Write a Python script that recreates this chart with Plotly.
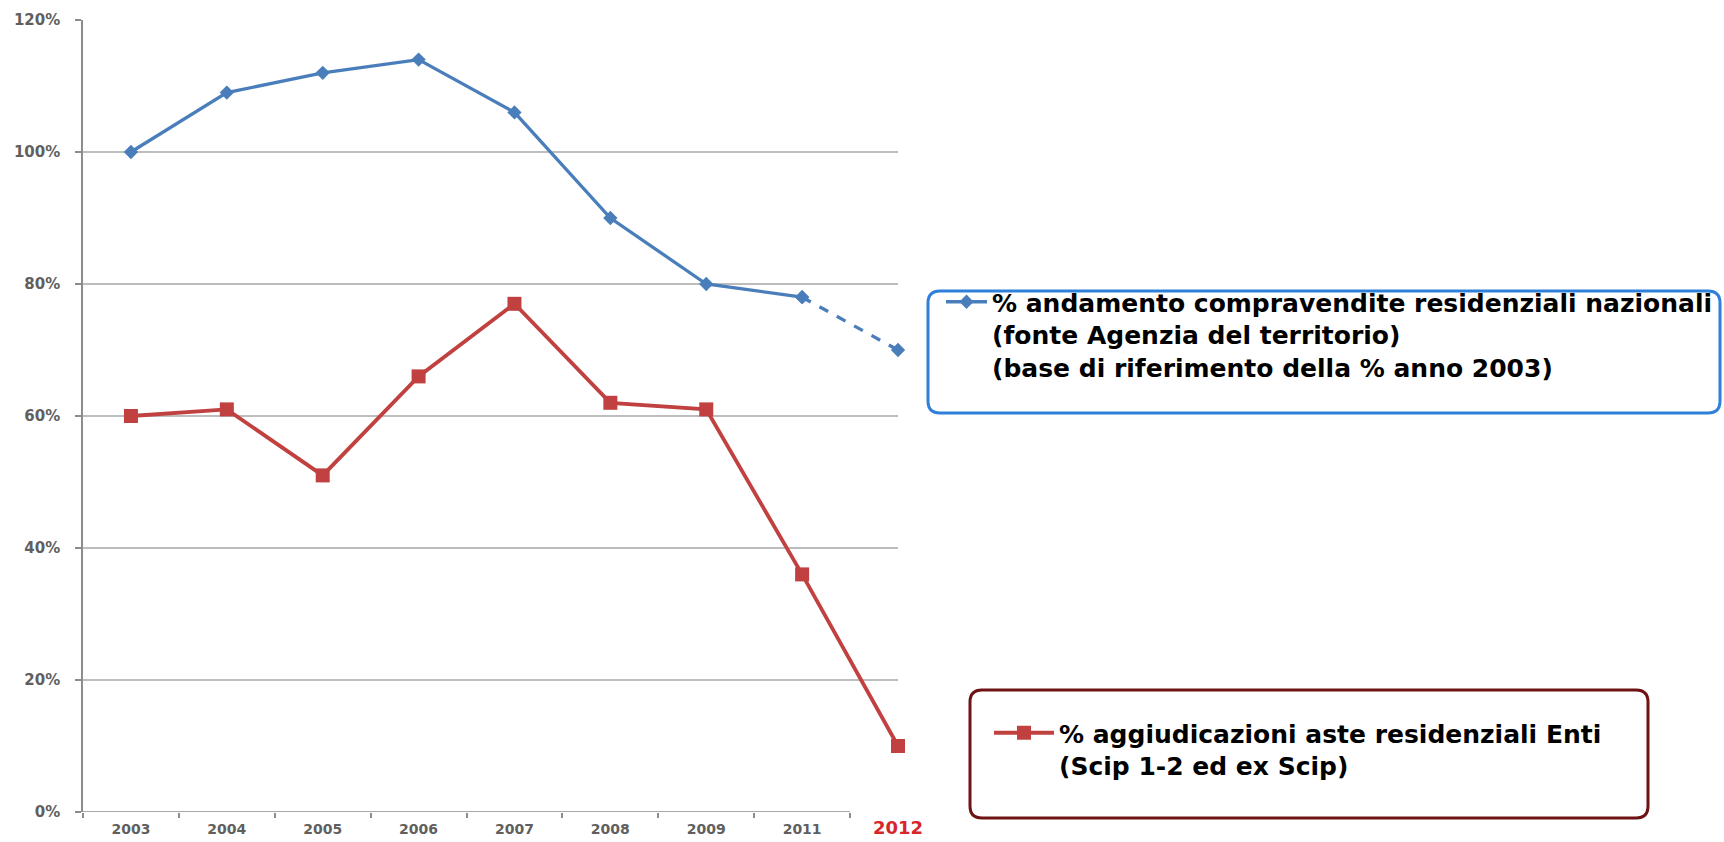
import plotly.graph_objects as go

years = ["2003", "2004", "2005", "2006", "2007", "2008", "2009", "2011", "2012"]
compravendite = [100, 109, 112, 114, 106, 90, 80, 78, 70]
aggiudicazioni = [60, 61, 51, 66, 77, 62, 61, 36, 10]
y_ticks = [0, 20, 40, 60, 80, 100, 120]
y_tick_labels = [f"{v}%" for v in y_ticks]

name_blue = ("% andamento compravendite residenziali nazionali<br>"
             "(fonte Agenzia del territorio)<br>"
             "(base di riferimento della % anno 2003)")
name_red = "% aggiudicazioni aste residenziali Enti<br>(Scip 1-2 ed ex Scip)"

BLUE = "#4a7ebb"
RED = "#c0413f"

W, H = 1724, 842
L, R, T, B = 83, W - 898, 20, 30
pw, ph = W - L - R, H - T - B

xpos = list(range(len(years)))
n_solid = len(years) - 1  # last point (2012) is an estimate -> dashed

fig = go.Figure()
fig.add_trace(go.Scatter(
    x=xpos[:n_solid], y=compravendite[:n_solid], mode="lines+markers",
    name=name_blue, legend="legend",
    line=dict(color=BLUE, width=3.3),
    marker=dict(symbol="diamond", size=11, color=BLUE),
    cliponaxis=False,
))
fig.add_trace(go.Scatter(
    x=xpos[n_solid - 1:], y=compravendite[n_solid - 1:], mode="lines+markers",
    showlegend=False,
    line=dict(color=BLUE, width=3.3, dash="dash"),
    marker=dict(symbol="diamond", size=11, color=BLUE),
    cliponaxis=False,
))
fig.add_trace(go.Scatter(
    x=xpos, y=aggiudicazioni, mode="lines+markers",
    name=name_red, legend="legend2",
    line=dict(color=RED, width=3.8),
    marker=dict(symbol="square", size=14, color=RED),
    cliponaxis=False,
))

ticktext = years[:-1] + [f"<span style='color:#d7262b;font-size:18px'><b>{years[-1]}</b></span>"]

fig.update_xaxes(
    range=[-0.5, len(years) - 1], automargin=False,
    tickmode="array", tickvals=xpos, ticktext=ticktext,
    ticks="", showgrid=False, zeroline=False, showline=False,
    tickfont=dict(family="DejaVu Sans", size=14, color="#5f5f5f", weight="bold"),
    minor=dict(tick0=-0.5, dtick=1, ticks="outside", ticklen=5, tickcolor="#8c8c8c", tickwidth=1.5),
    ticklabelstandoff=7,
)
fig.update_yaxes(
    range=[0, 120], automargin=False, tickmode="array", tickvals=y_ticks, ticktext=y_tick_labels,
    showgrid=True, gridcolor="#bdbdbd", gridwidth=1.5,
    zeroline=False, showline=True, linecolor="#8c8c8c", linewidth=1.5,
    ticks="outside", ticklen=6, tickcolor="#8c8c8c", tickwidth=1.5,
    tickfont=dict(family="DejaVu Sans", size=15, color="#5f5f5f", weight="bold"),
    ticklabelstandoff=12,
)

# mask the 0% gridline beyond the last regular category, then draw the baseline
fig.add_shape(type="line", xref="x", yref="y", x0=len(years) - 1.5, x1=len(years) - 1, y0=0, y1=0,
              line=dict(color="white", width=3), layer="between")
fig.add_shape(type="line", xref="x", yref="y", x0=-0.5, x1=len(years) - 1.5, y0=0, y1=0,
              line=dict(color="#8c8c8c", width=1.5), layer="above")


def px2paper(px, py):
    return (px - L) / pw, (H - B - py) / ph


def rounded_box(x0, y0, x1, y1, r=12):
    rx, ry = r / pw, r / ph
    a, b = px2paper(x0, y1)  # bottom-left
    c, d = px2paper(x1, y0)  # top-right
    return (f"M {a+rx},{b} L {c-rx},{b} Q {c},{b} {c},{b+ry} "
            f"L {c},{d-ry} Q {c},{d} {c-rx},{d} L {a+rx},{d} "
            f"Q {a},{d} {a},{d-ry} L {a},{b+ry} Q {a},{b} {a+rx},{b} Z")


fig.add_shape(type="path", xref="paper", yref="paper",
              path=rounded_box(928, 291, 1720, 413), line=dict(color="#2f80d8", width=3),
              fillcolor="rgba(0,0,0,0)")
fig.add_shape(type="path", xref="paper", yref="paper",
              path=rounded_box(970, 690, 1648, 818), line=dict(color="#6e1214", width=3),
              fillcolor="rgba(0,0,0,0)")

lx1, ly1 = px2paper(941, 279)
lx2, ly2 = px2paper(989, 710)
legfont = dict(family="DejaVu Sans", size=25, color="#000000", weight="bold")
fig.update_layout(
    width=W, height=H,
    margin=dict(l=L, r=R, t=T, b=B, autoexpand=False),
    paper_bgcolor="white", plot_bgcolor="white",
    legend=dict(x=lx1, y=ly1, xanchor="left", yanchor="top", font=legfont,
                bgcolor="rgba(0,0,0,0)", borderwidth=0, valign="top", itemwidth=41),
    legend2=dict(x=lx2, y=ly2, xanchor="left", yanchor="top", font=legfont,
                 bgcolor="rgba(0,0,0,0)", borderwidth=0, valign="top", itemwidth=60),
)

fig.write_html("out.html", post_script="document.body.style.margin='0';",
               config={"displayModeBar": False})
